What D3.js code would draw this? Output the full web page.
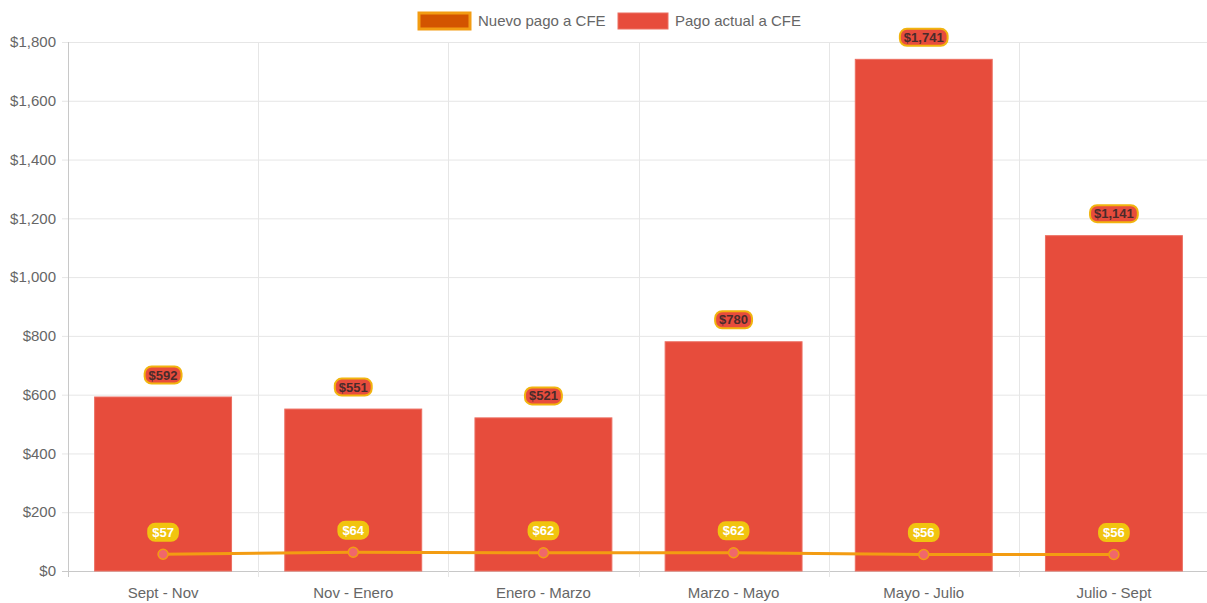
<!DOCTYPE html>
<html><head><meta charset="utf-8">
<script src="https://cdn.jsdelivr.net/npm/d3@7"></script>
<style>body{margin:0;background:#fff;} svg{display:block;font-family:"Liberation Sans",Arial,sans-serif;}</style>
</head><body><svg id="c" width="1207" height="603"></svg>
<script>
const categories = ["Sept - Nov","Nov - Enero","Enero - Marzo","Marzo - Mayo","Mayo - Julio","Julio - Sept"];
const pagoActual = [592,551,521,780,1741,1141];
const nuevoPago = [57,64,62,62,56,56];
const yTicks = [0,200,400,600,800,1000,1200,1400,1600,1800];
const seriesNames = ["Nuevo pago a CFE","Pago actual a CFE"];

const svg = d3.select("#c");
const m = {l:68, r:1209, t:42, b:571};
const x = d3.scaleBand().domain(categories).range([m.l, m.r]).paddingInner(0).paddingOuter(0);
const y = d3.scaleLinear().domain([0,1800]).range([m.b, m.t]);
const fmt = v => "$" + d3.format(",")(v);

// grid
const g = svg.append("g");
g.selectAll("line.h").data(yTicks).join("line")
  .attr("x1", m.l-6).attr("x2", m.r).attr("y1", d=>y(d)+0.5).attr("y2", d=>y(d)+0.5)
  .attr("stroke", d=> d===0 ? "#c8c8c8" : "#e6e6e6").attr("stroke-width",1);
const vx = categories.map(c=>x(c)).concat([m.r]);
g.selectAll("line.v").data(vx).join("line")
  .attr("x1", d=>Math.round(d)+0.5).attr("x2", d=>Math.round(d)+0.5)
  .attr("y1", m.t).attr("y2", m.b+6)
  .attr("stroke", (d,i)=> i===0 ? "#c8c8c8" : "#e6e6e6");
// y labels
g.selectAll("text.y").data(yTicks).join("text")
  .attr("x", m.l-12).attr("y", d=>y(d)).attr("dy","0.35em")
  .attr("text-anchor","end").attr("font-size",15).attr("fill","#666").text(fmt);
// x labels
g.selectAll("text.x").data(categories).join("text")
  .attr("x", d=>x(d)+x.bandwidth()/2).attr("y", 598)
  .attr("text-anchor","middle").attr("font-size",15).attr("fill","#666").text(d=>d);

// bars
const bw = x.bandwidth()*0.72;
svg.append("g").selectAll("rect").data(pagoActual).join("rect")
  .attr("x", (d,i)=>x(categories[i])+x.bandwidth()/2-bw/2)
  .attr("width", bw)
  .attr("y", d=>y(d)).attr("height", d=>y(0)-y(d))
  .attr("fill","#e74c3c").attr("stroke","#ec6e61").attr("stroke-width",1);

// line
const line = d3.line().x((d,i)=>x(categories[i])+x.bandwidth()/2).y(d=>y(d));
svg.append("path").datum(nuevoPago).attr("d", line)
  .attr("fill","none").attr("stroke","#f39c12").attr("stroke-width",3);
svg.append("g").selectAll("circle").data(nuevoPago).join("circle")
  .attr("cx",(d,i)=>x(categories[i])+x.bandwidth()/2).attr("cy",d=>y(d))
  .attr("r",5).attr("fill","#f0676b").attr("stroke","#f39c12").attr("stroke-width",1.5);

// labels
const lf = '"Liberation Sans Narrow","Arial Narrow",sans-serif';
function label(gp, cx, cy, txt, bg, border, color){
  const t = gp.append("text").attr("x",cx).attr("y",cy).attr("dy","0.35em")
    .attr("text-anchor","middle").attr("font-size",13).attr("font-weight","bold")
    .attr("font-family",lf).attr("fill",color).text(txt);
  const w = t.node().getComputedTextLength();
  gp.insert("rect","text").attr("x",cx-w/2-4).attr("y",cy-8.5).attr("width",w+8).attr("height",17)
    .attr("rx",7).attr("fill",bg).attr("stroke",border).attr("stroke-width",2);
}
pagoActual.forEach((d,i)=>{
  const gp = svg.append("g");
  label(gp, x(categories[i])+x.bandwidth()/2, y(d)-22, fmt(d), "#e74c3c", "#f1b40f", "#4a2b2b");
});
nuevoPago.forEach((d,i)=>{
  const gp = svg.append("g");
  label(gp, x(categories[i])+x.bandwidth()/2, y(d)-22, fmt(d), "#f1c40f", "#f1c40f", "#fff");
});

// legend
const lg = svg.append("g");
lg.append("rect").attr("x",419).attr("y",13).attr("width",51).attr("height",16)
  .attr("fill","#d35400").attr("stroke","#f39c12").attr("stroke-width",3);
lg.append("text").attr("x",478).attr("y",21).attr("dy","0.35em").attr("font-size",15).attr("fill","#666").text(seriesNames[0]);
lg.append("rect").attr("x",618).attr("y",13).attr("width",50).attr("height",16)
  .attr("fill","#e74c3c").attr("stroke","#ec6e61").attr("stroke-width",1);
lg.append("text").attr("x",675).attr("y",21).attr("dy","0.35em").attr("font-size",15).attr("fill","#666").text(seriesNames[1]);
</script></body></html>
